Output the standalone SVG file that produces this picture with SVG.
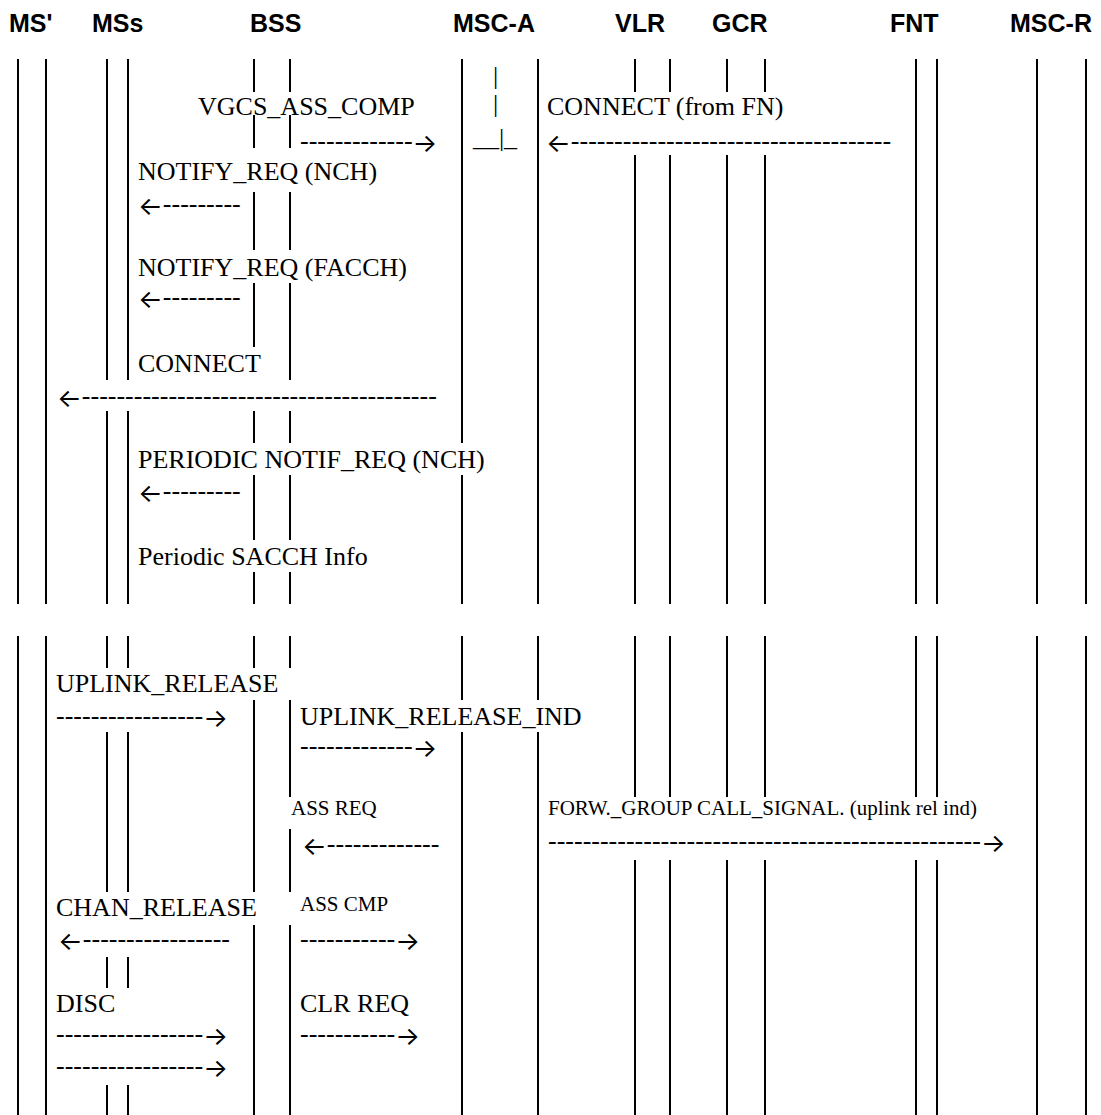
<svg xmlns="http://www.w3.org/2000/svg" width="1101" height="1115" viewBox="0 0 1101 1115">
<style>
.hdr{font-family:"Liberation Sans",Arial,sans-serif;font-weight:bold;font-size:25px;fill:#000}
.t{font-family:"Liberation Serif","Times New Roman",serif;font-size:26px;fill:#000}
.s{font-size:21px}
.a{font-family:Inter,"DejaVu Sans",sans-serif;font-size:26px}
.ll{stroke:#000;stroke-width:2;fill:none}
</style>
<rect x="0" y="0" width="1101" height="1115" fill="#fff"/>
<g id="node-ms-prime">
<text class="hdr" x="9" y="32">MS'</text>
<path class="ll" d="M18 59V604M18 636V1115M46 59V604M46 636V1115"/>
</g>
<g id="node-mss">
<text class="hdr" x="92" y="32">MSs</text>
<path class="ll" d="M107 59V380M107 411V604M107 636V668M107 732V892M107 957V988M107 1085V1115M128 59V380M128 411V604M128 636V668M128 732V892M128 957V988M128 1085V1115"/>
</g>
<g id="node-bss">
<text class="hdr" x="250" y="32">BSS</text>
<path class="ll" d="M254 59V92M254 115V148M254 192V250M254 283V347M254 411V443M254 475V540M254 572V604M254 636V668M254 700V892M254 925V1115"/>
<path class="ll" d="M290 59V92M290 115V148M290 192V250M290 283V380M290 411V443M290 475V540M290 572V604M290 636V668M290 700V797M290 829V892M290 925V1115"/>
</g>
<g id="node-msc-a">
<text class="hdr" x="453" y="32">MSC-A</text>
<path class="ll" d="M462 59V443M462 475V604M462 636V700M462 732V1115M538 59V604M538 636V700M538 732V1115"/>
<g opacity="0.99"><text class="t"><tspan x="492.9" y="84">|</tspan><tspan x="492.9" y="112">|</tspan><tspan x="472.9" y="146">__|_</tspan></text></g>
</g>
<g id="node-vlr">
<text class="hdr" x="615" y="32">VLR</text>
<path class="ll" d="M635 59V92M635 155V604M635 636V797M635 860V1115M670 59V92M670 155V604M670 636V797M670 860V1115"/>
</g>
<g id="node-gcr">
<text class="hdr" x="712" y="32">GCR</text>
<path class="ll" d="M727 59V92M727 155V604M727 636V797M727 860V1115M765 59V92M765 155V604M765 636V797M765 860V1115"/>
</g>
<g id="node-fnt">
<text class="hdr" x="890" y="32">FNT</text>
<path class="ll" d="M916 59V604M916 636V797M916 860V1115M937 59V604M937 636V797M937 860V1115"/>
</g>
<g id="node-msc-r">
<text class="hdr" x="1010" y="32">MSC-R</text>
<path class="ll" d="M1037 59V604M1037 636V1115M1086 59V604M1086 636V1115"/>
</g>
<g id="connectors">
<text class="t" x="198" y="115">VGCS_ASS_COMP</text>
<text class="t" x="300" y="149">-------------<tspan class="a" dy="2.5">→</tspan></text>
<text class="t" x="547" y="115">CONNECT (from FN)</text>
<text class="t" x="546" y="149"><tspan class="a" dy="2.5">←</tspan><tspan dy="-2.5">-------------------------------------</tspan></text>
<text class="t" x="138" y="180">NOTIFY_REQ (NCH)</text>
<text class="t" x="138" y="212"><tspan class="a" dy="2.5">←</tspan><tspan dy="-2.5">---------</tspan></text>
<text class="t" x="138" y="276">NOTIFY_REQ (FACCH)</text>
<text class="t" x="138" y="305"><tspan class="a" dy="2.5">←</tspan><tspan dy="-2.5">---------</tspan></text>
<text class="t" x="138" y="372">CONNECT</text>
<text class="t" x="57" y="404"><tspan class="a" dy="2.5">←</tspan><tspan dy="-2.5">-----------------------------------------</tspan></text>
<text class="t" x="138" y="468">PERIODIC NOTIF_REQ (NCH)</text>
<text class="t" x="138" y="499"><tspan class="a" dy="2.5">←</tspan><tspan dy="-2.5">---------</tspan></text>
<text class="t" x="138" y="565">Periodic SACCH Info</text>
<text class="t" x="56" y="692">UPLINK_RELEASE</text>
<text class="t" x="56" y="724">-----------------<tspan class="a" dy="2.5">→</tspan></text>
<text class="t" x="300" y="725">UPLINK_RELEASE_IND</text>
<text class="t" x="300" y="754">-------------<tspan class="a" dy="2.5">→</tspan></text>
<text class="t s" x="291" y="815">ASS REQ</text>
<text class="t" x="302" y="852"><tspan class="a" dy="2.5">←</tspan><tspan dy="-2.5">-------------</tspan></text>
<text class="t s" x="548" y="815">FORW._GROUP CALL_SIGNAL. (uplink rel ind)</text>
<text class="t" x="548" y="849">--------------------------------------------------<tspan class="a" dy="2.5">→</tspan></text>
<text class="t" x="56" y="916">CHAN_RELEASE</text>
<text class="t s" x="300" y="911">ASS CMP</text>
<text class="t" x="58" y="947"><tspan class="a" dy="2.5">←</tspan><tspan dy="-2.5">-----------------</tspan></text>
<text class="t" x="300" y="947">-----------<tspan class="a" dy="2.5">→</tspan></text>
<text class="t" x="56" y="1012">DISC</text>
<text class="t" x="300" y="1012">CLR REQ</text>
<text class="t" x="56" y="1042">-----------------<tspan class="a" dy="2.5">→</tspan></text>
<text class="t" x="300" y="1042">-----------<tspan class="a" dy="2.5">→</tspan></text>
<text class="t" x="56" y="1074">-----------------<tspan class="a" dy="2.5">→</tspan></text>
</g>
</svg>
